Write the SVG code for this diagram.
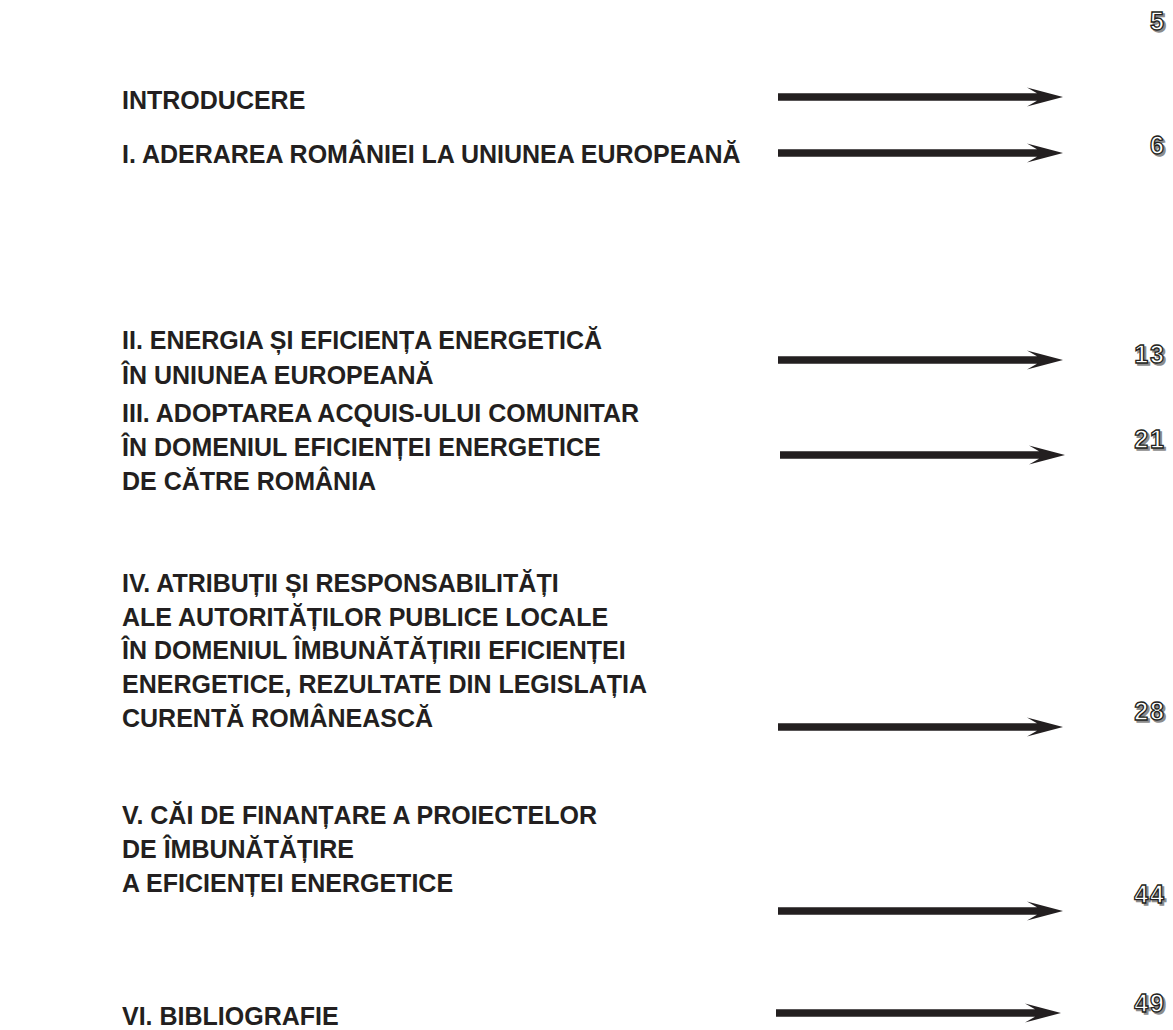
<svg xmlns="http://www.w3.org/2000/svg" width="1173" height="1030" viewBox="0 0 1173 1030">
<defs>
<style>
.t{font-family:"Liberation Sans",Arial,sans-serif;font-weight:bold;font-size:25px;fill:#231f20}
.n{font-family:"Liberation Sans",Arial,sans-serif;font-weight:bold;font-size:25px;letter-spacing:2px;text-anchor:end}
.ns{fill:#8c8c8c;stroke:#8c8c8c;stroke-width:1.4}
.nf{fill:#ffffff;stroke:#231f20;stroke-width:1.3}
.a{fill:#231f20}
</style>
<path id="arr" d="M778,-3.8 L1037,-3.8 L1027,-9.5 L1063,0 L1027,9.5 L1037,3.8 L778,3.8 Z"/>
</defs>
<rect width="1173" height="1030" fill="#ffffff"/>
<g id="connectors" class="a">
<use href="#arr" transform="translate(0,97)"/>
<use href="#arr" transform="translate(0,153)"/>
<use href="#arr" transform="translate(0,360)"/>
<use href="#arr" transform="translate(2,455)"/>
<use href="#arr" transform="translate(0,727)"/>
<use href="#arr" transform="translate(0,911)"/>
<use href="#arr" transform="translate(-2,1013)"/>
</g>
<g id="n-intro">
<text class="t" x="122" y="109">INTRODUCERE</text>
<text class="n ns" x="1168" y="32">5</text>
<text class="n nf" x="1166" y="30">5</text>
</g>
<g id="n-1">
<text class="t" x="122" y="163">I. ADERAREA ROMÂNIEI LA UNIUNEA EUROPEANĂ</text>
<text class="n ns" x="1168" y="156">6</text>
<text class="n nf" x="1166" y="154">6</text>
</g>
<g id="n-2">
<text class="t" x="122" y="349">II. ENERGIA ȘI EFICIENȚA ENERGETICĂ</text>
<text class="t" x="122" y="384">ÎN UNIUNEA EUROPEANĂ</text>
<text class="n ns" x="1168" y="365">13</text>
<text class="n nf" x="1166" y="363">13</text>
</g>
<g id="n-3">
<text class="t" x="122" y="422">III. ADOPTAREA ACQUIS-ULUI COMUNITAR</text>
<text class="t" x="122" y="456">ÎN DOMENIUL EFICIENȚEI ENERGETICE</text>
<text class="t" x="122" y="490">DE CĂTRE ROMÂNIA</text>
<text class="n ns" x="1168" y="450">21</text>
<text class="n nf" x="1166" y="448">21</text>
</g>
<g id="n-4">
<text class="t" x="122" y="592">IV. ATRIBUȚII ȘI RESPONSABILITĂȚI</text>
<text class="t" x="122" y="626">ALE AUTORITĂȚILOR PUBLICE LOCALE</text>
<text class="t" x="122" y="659">ÎN DOMENIUL ÎMBUNĂTĂȚIRII EFICIENȚEI</text>
<text class="t" x="122" y="693">ENERGETICE, REZULTATE DIN LEGISLAȚIA</text>
<text class="t" x="122" y="727">CURENTĂ ROMÂNEASCĂ</text>
<text class="n ns" x="1168" y="722">28</text>
<text class="n nf" x="1166" y="720">28</text>
</g>
<g id="n-5">
<text class="t" x="122" y="824">V. CĂI DE FINANȚARE A PROIECTELOR</text>
<text class="t" x="122" y="858">DE ÎMBUNĂTĂȚIRE</text>
<text class="t" x="122" y="892">A EFICIENȚEI ENERGETICE</text>
<text class="n ns" x="1168" y="905">44</text>
<text class="n nf" x="1166" y="903">44</text>
</g>
<g id="n-6">
<text class="t" x="122" y="1025">VI. BIBLIOGRAFIE</text>
<text class="n ns" x="1168" y="1014">49</text>
<text class="n nf" x="1166" y="1012">49</text>
</g>
</svg>
